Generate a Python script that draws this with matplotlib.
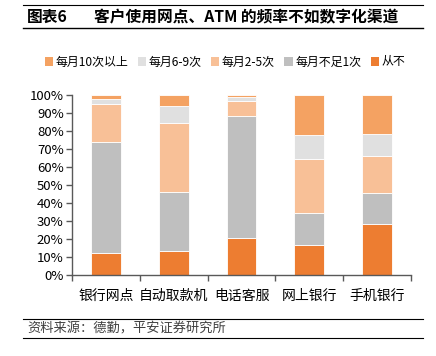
import matplotlib
matplotlib.use("Agg")
import matplotlib.pyplot as plt
import numpy as np
from matplotlib.lines import Line2D
from matplotlib.patches import Patch

plt.rcParams['font.family'] = ['Noto Sans CJK SC', 'DejaVu Sans']

categories = ['银行网点', '自动取款机', '电话客服', '网上银行', '手机银行']
series_names = ['每月10次以上', '每月6-9次', '每月2-5次', '每月不足1次', '从不']
never = [12.5, 13.3, 20.7, 16.7, 28.1]
lt1 = [61.5, 32.8, 67.8, 17.9, 17.3]
m2_5 = [21.0, 38.3, 8.0, 29.7, 20.9]
m6_9 = [3.0, 9.7, 2.6, 13.5, 12.0]
m10 = [2.0, 5.9, 0.9, 22.2, 21.7]
colors = {'从不': '#ED7D31', '每月不足1次': '#BFBFBF', '每月2-5次': '#F8C097',
          '每月6-9次': '#E0E0E0', '每月10次以上': '#F4A262'}

fig = plt.figure(figsize=(4.36, 3.56), dpi=100)
ax = fig.add_axes([72/436, 1-275/356, (411-72)/436, 180/356])

x = np.arange(len(categories))
bottom = np.zeros(len(categories))
stack = [('从不', never), ('每月不足1次', lt1), ('每月2-5次', m2_5),
         ('每月6-9次', m6_9), ('每月10次以上', m10)]
for name, vals in stack:
    ax.bar(x, vals, 0.44, bottom=bottom, color=colors[name], edgecolor='white',
           linewidth=0.6, zorder=2)
    bottom += np.array(vals)

ax.set_xlim(-0.5, len(categories) - 0.5)
ax.set_ylim(0, 100)
ax.set_yticks(np.arange(0, 101, 10))
ax.set_yticklabels([f'{v}%' for v in range(0, 101, 10)], fontsize=9.5)
ax.set_xticks(x)
ax.set_xticklabels(categories, fontsize=10)
ax.tick_params(axis='x', length=0, pad=10)
ax.set_xticks(np.arange(-0.5, len(categories), 1), minor=True)
ax.tick_params(axis='x', which='minor', length=4, color='#595959', width=1)
ax.tick_params(axis='y', length=4, color='#595959', width=1, pad=2)
for s in ['top', 'right']:
    ax.spines[s].set_visible(False)
for s in ['left', 'bottom']:
    ax.spines[s].set_color('#595959')
    ax.spines[s].set_linewidth(1)

handles = [Patch(facecolor=colors[n], edgecolor='none') for n in series_names]
fig.legend(handles, series_names, loc='center', bbox_to_anchor=(225/436, 1-62/356),
           ncol=5, frameon=False, fontsize=8.6, handlelength=0.7, handleheight=0.7,
           handletextpad=0.2, columnspacing=0.8)

# title and framing lines
fig.add_artist(Line2D([23/436, 423/436], [1-5/356, 1-5/356], color='black', lw=0.8))
fig.add_artist(Line2D([23/436, 423/436], [1-28/356, 1-28/356], color='black', lw=1.0))
fig.text(27/436, 1-17/356, '图表6', fontsize=11.3, fontweight='bold', va='center', ha='left')
fig.text(94/436, 1-17/356, '客户使用网点、ATM 的频率不如数字化渠道', fontsize=11.3,
         fontweight='bold', va='center', ha='left')

fig.add_artist(Line2D([23/436, 423/436], [1-319/356, 1-319/356], color='black', lw=0.8))
fig.add_artist(Line2D([23/436, 423/436], [1-338/356, 1-338/356], color='black', lw=0.8))
fig.text(27/436, 1-328.5/356, '资料来源：德勤，平安证券研究所', fontsize=9.5, style='italic',
         color='#404040', va='center', ha='left')

fig.savefig('out.png', dpi=100)
